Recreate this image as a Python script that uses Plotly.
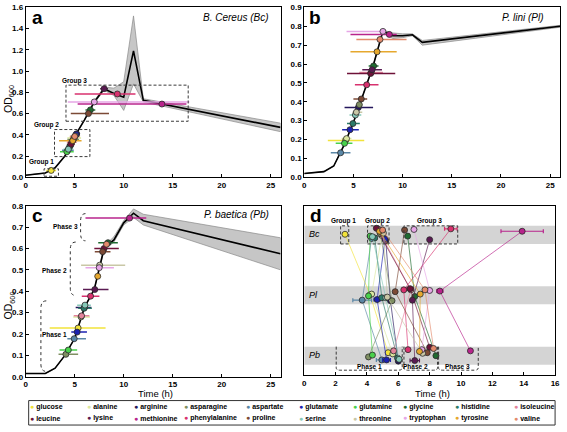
import plotly.graph_objects as go

FONT = "Liberation Sans, Arial, sans-serif"
W, H = 567, 432

# ---------------- data ----------------
amino = ["glucose", "alanine", "arginine", "asparagine", "aspartate", "glutamate",
         "glutamine", "glycine", "histidine", "isoleucine", "leucine", "lysine",
         "methionine", "phenylalanine", "proline", "serine", "threonine",
         "tryptophan", "tyrosine", "valine"]
amino_colors = ["#f2e33a", "#dbe8a0", "#24175c", "#7f8f62", "#5b87a6", "#1c22b0",
                "#49d14c", "#1f6b30", "#2b7b69", "#e3839b", "#6e1238", "#5a1a52",
                "#b8248c", "#d8316e", "#7c4a36", "#86c9b8", "#c9c7a6",
                "#e6a6e6", "#e6a82e", "#e38a6c"]

# growth curves (time h, OD600 mean, lower, upper)
curve_time = [0, 2, 3, 4, 5, 6, 7, 8, 9, 10, 11, 12, 26]
bc_od = [0.02, 0.04, 0.09, 0.20, 0.385, 0.54, 0.71, 0.835, 0.79, 0.755, 1.19, 0.725, 0.47]
bc_lo = [0.02, 0.04, 0.09, 0.20, 0.385, 0.54, 0.70, 0.82, 0.77, 0.63, 0.88, 0.71, 0.43]
bc_hi = [0.02, 0.04, 0.09, 0.20, 0.385, 0.54, 0.72, 0.85, 0.84, 0.90, 1.52, 0.74, 0.51]
pl_od = [0.02, 0.03, 0.06, 0.165, 0.29, 0.44, 0.59, 0.775, 0.75, 0.75, 0.755, 0.715, 0.80]
pl_lo = [0.02, 0.03, 0.06, 0.165, 0.29, 0.44, 0.59, 0.77, 0.735, 0.74, 0.75, 0.70, 0.795]
pl_hi = [0.02, 0.03, 0.06, 0.165, 0.29, 0.44, 0.59, 0.78, 0.765, 0.76, 0.76, 0.725, 0.805]
pb_od = [0.015, 0.015, 0.04, 0.10, 0.18, 0.325, 0.41, 0.60, 0.64, 0.72, 0.765, 0.73, 0.575]
pb_lo = [0.015, 0.015, 0.04, 0.10, 0.18, 0.325, 0.41, 0.59, 0.63, 0.71, 0.745, 0.71, 0.50]
pb_hi = [0.015, 0.015, 0.04, 0.10, 0.18, 0.325, 0.41, 0.61, 0.655, 0.73, 0.785, 0.76, 0.65]

# B. cereus: depletion time, OD at that time, error (minus, plus), panel d offset, panel d error
bc_time = [2.6, 4.95, 5.2, 4.85, 4.3, 5.15, 4.2, 6.6, 4.5, 4.7, 4.6, 8.0, 13.9, 9.35, 6.4, 4.35, 5.05, 7.0, 4.8, 5.0]
bc_val = [0.065, 0.37, 0.41, 0.355, 0.255, 0.405, 0.24, 0.635, 0.29, 0.33, 0.31, 0.835, 0.69, 0.785, 0.60, 0.265, 0.39, 0.71, 0.345, 0.385]
bc_errm = [0.5, 0.7, 0.3, 0.6, 0.6, 0.3, 0.7, 0.5, 0.4, 0.5, 0.4, 0.4, 8.6, 4.35, 1.8, 0.5, 0.5, 2.7, 1.4, 0.5]
bc_errp = [0.5, 0.7, 0.3, 0.6, 0.6, 0.3, 0.7, 0.5, 0.4, 0.5, 0.4, 0.4, 2.5, 1.85, 2.1, 0.5, 0.5, 9.7, 0.9, 0.5]
bc_off = [0.01, -0.01, -0.10, 0.02, -0.06, -0.07, -0.02, -0.02, -0.05, 0.10, 0.11, -0.08, 0.06, 0.10, 0.08, -0.03, 0.03, 0.09, 0.06, 0.08]
bc_derr = [0, 0, 0, 0, 0, 0, 0, 0, 0, 0, 0, 0, 1.35, 0.4, 0, 0, 0, 0, 0, 0]

# P. lini
pl_time = [4.2, 4.3, 5.5, 5.6, 3.7, 4.65, 4.1, 7.05, 4.95, 6.8, 6.75, 6.9, 8.65, 6.35, 5.8, 5.2, 5.3, 8.0, 7.4, 7.7]
pl_val = [0.195, 0.205, 0.37, 0.385, 0.13, 0.252, 0.18, 0.59, 0.285, 0.555, 0.55, 0.57, 0.757, 0.49, 0.415, 0.33, 0.345, 0.773, 0.665, 0.73]
pl_errm = [1.8, 0.5, 1.4, 0.3, 1.0, 0.8, 0.9, 0.5, 0.6, 1.2, 2.4, 1.0, 3.95, 1.2, 0.8, 0.6, 0.4, 3.7, 2.7, 2.4]
pl_errp = [1.9, 0.5, 1.5, 0.3, 1.0, 0.9, 0.8, 0.5, 0.7, 1.2, 2.5, 1.0, 0.75, 1.2, 0.6, 0.6, 0.6, 0.2, 2.0, 2.7]
pl_off = [0.01, 0.02, -0.09, -0.09, -0.08, -0.07, -0.01, -0.02, -0.04, 0.09, 0.11, -0.08, 0.07, 0.09, 0.06, -0.04, -0.03, 0.08, 0.02, 0.09]
pl_derr = [0, 0, 0, 0, 0.6, 0.2, 0, 0, 0, 0, 0.2, 0, 0.2, 0, 0, 0, 0, 0, 0, 0]

# P. baetica
pb_time = [5.35, 5.65, 6.0, 4.1, 4.95, 5.25, 4.35, 8.4, 5.95, 5.7, 8.0, 7.05, 10.6, 6.62, 7.85, 6.05, 7.55, 7.5, 7.35, 8.25]
pb_val = [0.228, 0.28, 0.324, 0.105, 0.178, 0.209, 0.125, 0.627, 0.32, 0.285, 0.60, 0.408, 0.742, 0.377, 0.585, 0.335, 0.522, 0.51, 0.47, 0.62]
pb_errm = [2.9, 0.8, 0.9, 0.75, 0.7, 0.6, 0.9, 1.0, 0.6, 0.8, 1.0, 1.2, 4.5, 0.9, 0.8, 0.8, 1.9, 1.4, 0.2, 0.3]
pb_errp = [2.8, 0.9, 0.7, 1.25, 1.2, 1.0, 0.9, 1.0, 0.8, 0.8, 1.5, 1.4, 1.7, 0.9, 0.8, 0.6, 2.6, 1.5, 0.2, 0.3]
pb_off = [0.05, 0.03, -0.09, -0.02, -0.07, -0.07, 0.01, 0.0, -0.04, 0.08, 0.14, -0.08, 0.08, 0.10, 0.05, -0.06, 0.04, 0.10, 0.07, 0.12]
pb_derr = [0, 0, 0, 0, 0.35, 0.25, 0, 0, 0, 0, 0, 0.3, 0, 0, 0, 0, 0, 0, 0, 0]

species_rows = ["Bc", "Pl", "Pb"]
row_level = [3, 2, 1]

# ---------------- figure ----------------
fig = go.Figure()


def px(x):
    return x / W


def py(y):
    return 1 - y / H


def growth_panel(xa, ya, od, lo, hi, t, v, em, ep):
    fig.add_trace(go.Scatter(x=curve_time + curve_time[::-1], y=hi + lo[::-1], fill="toself",
                             fillcolor="#c6c6c6", line=dict(color="#8a8a8a", width=0.7),
                             mode="lines", xaxis=xa, yaxis=ya, hoverinfo="skip"))
    fig.add_trace(go.Scatter(x=curve_time, y=od, mode="lines", line=dict(color="black", width=1.6),
                             xaxis=xa, yaxis=ya))
    for i, name in enumerate(amino):
        fig.add_trace(go.Scatter(x=[t[i]], y=[v[i]], mode="markers", name=name,
                                 marker=dict(size=6, opacity=0),
                                 error_x=dict(type="data", symmetric=False, array=[ep[i]],
                                              arrayminus=[em[i]], color=amino_colors[i],
                                              thickness=1.5, width=0),
                                 xaxis=xa, yaxis=ya))
    for i, name in enumerate(amino):
        fig.add_trace(go.Scatter(x=[t[i]], y=[v[i]], mode="markers", name=name,
                                 marker=dict(size=6, color=amino_colors[i],
                                             line=dict(color="#2a2a2a", width=0.8)),
                                 xaxis=xa, yaxis=ya))


growth_panel("x", "y", bc_od, bc_lo, bc_hi, bc_time, bc_val, bc_errm, bc_errp)
growth_panel("x2", "y2", pl_od, pl_lo, pl_hi, pl_time, pl_val, pl_errm, pl_errp)
growth_panel("x3", "y3", pb_od, pb_lo, pb_hi, pb_time, pb_val, pb_errm, pb_errp)

# panel d: depletion times linked across species
for i, name in enumerate(amino):
    xs = [bc_time[i], pl_time[i], pb_time[i]]
    ys = [row_level[0] + bc_off[i], row_level[1] + pl_off[i], row_level[2] + pb_off[i]]
    errs = [bc_derr[i], pl_derr[i], pb_derr[i]]
    c = amino_colors[i]
    r, g, b = int(c[1:3], 16), int(c[3:5], 16), int(c[5:7], 16)
    fig.add_trace(go.Scatter(x=xs, y=ys, mode="lines+markers", name=name,
                             line=dict(color=f"rgba({r},{g},{b},0.65)", width=1),
                             marker=dict(size=6, color=c, line=dict(color="#2a2a2a", width=0.8)),
                             error_x=dict(type="data", array=errs, color=c, thickness=1.2, width=2),
                             xaxis="x4", yaxis="y4"))

axis_common = dict(showline=True, linecolor="black", linewidth=1, mirror=True, ticks="inside",
                   ticklen=3, tickcolor="black", showgrid=False, zeroline=False,
                   ticklabeloverflow="allow",
                   tickfont=dict(family=FONT, size=8, color="black", weight="bold"))

dom_x_left = [24 / W, 282 / W]
dom_x_right = [306 / W, 565 / W]
dom_y_top = [py(177), py(3.5)]
dom_y_bot = [py(380.7), py(206)]

fig.update_layout(
    width=W, height=H, margin=dict(l=0, r=0, t=0, b=0),
    paper_bgcolor="white", plot_bgcolor="white", showlegend=False,
    font=dict(family=FONT, color="black"),
    xaxis=dict(domain=dom_x_left, range=[0, 26], tickvals=[0, 5, 10, 15, 20, 25], anchor="y", **axis_common),
    yaxis=dict(domain=dom_y_top, range=[0, 1.6], dtick=0.2, tickformat=".1f", anchor="x", **axis_common),
    xaxis2=dict(domain=dom_x_right, range=[0, 26], tickvals=[0, 5, 10, 15, 20, 25], anchor="y2", **axis_common),
    yaxis2=dict(domain=dom_y_top, range=[0, 0.9], dtick=0.1, tickformat=".1f", anchor="x2", **axis_common),
    xaxis3=dict(domain=dom_x_left, range=[0, 26], tickvals=[0, 5, 10, 15, 20, 25], anchor="y3", **axis_common),
    yaxis3=dict(domain=dom_y_bot, range=[0, 0.8], dtick=0.1, tickformat=".1f", anchor="x3", **axis_common),
    xaxis4=dict(domain=[306 / W, 560 / W], range=[0, 16], dtick=2, anchor="y4", **axis_common),
    yaxis4=dict(domain=[py(379.3), py(206)], range=[0.674, 3.483], anchor="x4",
                showline=True, linecolor="black", linewidth=1, mirror=True, ticks="",
                showticklabels=False, showgrid=False, zeroline=False),
)

shapes = []
dash_line = dict(color="#3a3a3a", width=1, dash="3px,2px")
# panel a group boxes
for (x0, x1, y0, y1) in [(1.87, 3.34, 0.01, 0.08), (2.94, 6.55, 0.195, 0.45), (4.11, 16.58, 0.528, 0.868)]:
    shapes.append(dict(type="rect", xref="x", yref="y", x0=x0, x1=x1, y0=y0, y1=y1, line=dash_line))
# panel c phase brackets
for (xr, xl, yt, yb) in [(2.1, 1.55, 0.355, 0.025), (5.1, 4.55, 0.63, 0.38), (6.1, 5.6, 0.763, 0.636)]:
    path = (f"M {xr},{yt} Q {xl},{yt} {xl},{yt - 0.035} L {xl},{yb + 0.035} "
            f"Q {xl},{yb} {xr},{yb}")
    shapes.append(dict(type="path", xref="x3", yref="y3", path=path,
                       line=dict(color="#333333", width=1, dash="dot")))
# panel d grey bands
for lvl in row_level:
    shapes.append(dict(type="rect", xref="x4", yref="y4", x0=0, x1=16, y0=lvl - 0.15, y1=lvl + 0.15,
                       fillcolor="#d4d4d4", line=dict(width=0), layer="below"))
# panel d group boxes
for (x0, x1) in [(2.32, 2.84), (4.04, 5.41), (6.36, 9.79)]:
    shapes.append(dict(type="rect", xref="x4", yref="y4", x0=x0, x1=x1, y0=2.85, y1=3.15, line=dash_line))
# panel d phase brackets
for (x0, x1) in [(2.04, 6.25), (6.36, 8.5), (8.57, 11.1)]:
    path = (f"M {x0},1.15 L {x0},0.80 Q {x0},0.76 {x0 + 0.25},0.76 L {x1 - 0.25},0.76 "
            f"Q {x1},0.76 {x1},0.80 L {x1},1.15")
    shapes.append(dict(type="path", xref="x4", yref="y4", path=path, line=dash_line))
# legend frame
shapes.append(dict(type="rect", xref="paper", yref="paper", x0=px(27), x1=px(560), y0=py(430), y1=py(405),
                   line=dict(color="#333333", width=1)))
fig.update_layout(shapes=shapes)

ann = []


def text(x, y, s, size, xanchor="center", bold=False, italic=False, color="black", angle=0):
    ann.append(dict(x=px(x), y=py(y), xref="paper", yref="paper", text=s, showarrow=False,
                    xanchor=xanchor, yanchor="middle", textangle=angle,
                    font=dict(family=FONT, size=size, color=color,
                              weight="bold" if bold else "normal",
                              style="italic" if italic else "normal")))


# panel letters
text(36, 14, "a", 19, bold=True)
text(317, 14, "b", 19, bold=True)
text(36, 216, "c", 19, bold=True)
text(317.5, 216, "d", 19, bold=True)
# species labels
text(272, 14, "B. Cereus (Bc)", 10, xanchor="right", italic=True)
text(551, 13.5, "P. lini (Pl)", 10, xanchor="right", italic=True)
text(272, 215, "P. baetica (Pb)", 10, xanchor="right", italic=True)
# axis titles
text(7, 97, "OD<sub>600</sub>", 10.5, angle=-90)
text(7, 308, "OD<sub>600</sub>", 10.5, angle=-90)
text(155, 397.5, "Time (h)", 9.5)
text(436, 397.5, "Time (h)", 9.5)
# panel a group labels
text(40, 161.5, "Group 1", 6.5, bold=True)
text(45, 123.5, "Group 2", 6.5, bold=True)
text(73, 78.5, "Group 3", 6.5, bold=True)
# panel c phase labels
text(53, 337.5, "Phase 1", 6.5, bold=True)
text(53, 272.5, "Phase 2", 6.5, bold=True)
text(64, 227.5, "Phase 3", 6.5, bold=True)
# panel d labels
text(346, 222, "Group 1", 6.5, bold=True)
text(380.5, 222, "Group 2", 6.5, bold=True)
text(433, 222, "Group 3", 6.5, bold=True)
text(372.5, 370.5, "Phase 1", 6.5, bold=True)
text(419, 370.5, "Phase 2", 6.5, bold=True)
text(461, 370.5, "Phase 3", 6.5, bold=True)
for lab, yy in zip(species_rows, [235, 297.5, 358.5]):
    text(309, yy, lab, 9, xanchor="left", italic=True)

# legend entries
col_x = [29, 87, 135, 185, 248, 302, 356, 407, 460, 519]
row_y = [411.5, 423]
for i, name in enumerate(amino):
    r, c = divmod(i, 10)
    text(col_x[c] - 3, row_y[r],
         f"<span style='color:{amino_colors[i]}'>●</span> {name}", 7, xanchor="left", bold=True)

fig.update_layout(annotations=ann)
fig.write_html("out.html", config={"displayModeBar": False},
               post_script="document.body.style.margin='0px';document.body.style.overflow='hidden';")
